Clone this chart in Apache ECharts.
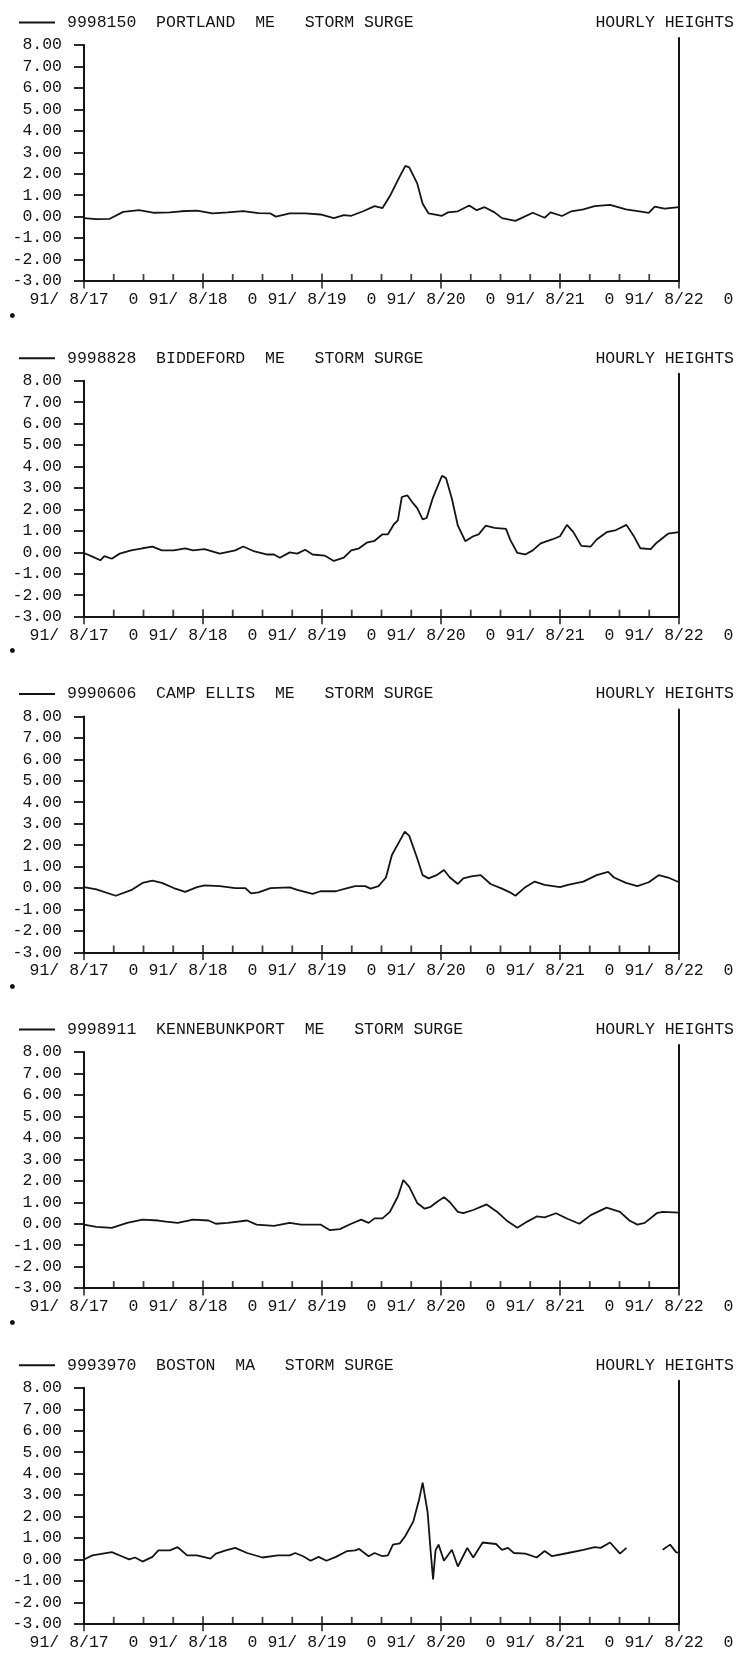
<!DOCTYPE html>
<html>
<head>
<meta charset="utf-8">
<script src="https://cdn.jsdelivr.net/npm/echarts@6/dist/echarts.min.js"></script>
<style>
html,body{margin:0;padding:0;background:#fff;}
#chart{width:743px;height:1656px;}
</style>
</head>
<body>
<div id="chart"></div>
<script>
// ---- DATA (hour since 91/8/17 00:00, storm surge height) ----
const stationNames = [
  "9998150  PORTLAND  ME   STORM SURGE",
  "9998828  BIDDEFORD  ME   STORM SURGE",
  "9990606  CAMP ELLIS  ME   STORM SURGE",
  "9998911  KENNEBUNKPORT  ME   STORM SURGE",
  "9993970  BOSTON  MA   STORM SURGE"
];
const rightTitle = "HOURLY HEIGHTS";
const dayLabels = ["91/ 8/17  0","91/ 8/18  0","91/ 8/19  0","91/ 8/20  0","91/ 8/21  0","91/ 8/22  0"];
const dayTickHours = [0, 24, 48, 72, 96, 120];
const sixHourTickHours = [6, 12, 18, 30, 36, 42, 54, 60, 66, 78, 84, 90, 102, 108, 114];
const yTicks = [-3,-2,-1,0,1,2,3,4,5,6,7,8];

const portland = [[0,-0.07],[2.5,-0.12],[5.2,-0.10],[7.9,0.22],[11.1,0.30],[14.2,0.18],[17.3,0.20],[19.6,0.25],[22.8,0.28],[25.9,0.15],[29.0,0.20],[32.1,0.26],[35.2,0.16],[37.6,0.15],[38.7,0.00],[41.5,0.15],[44.6,0.15],[47.7,0.10],[50.4,-0.07],[52.4,0.07],[53.9,0.04],[56.3,0.25],[58.6,0.49],[60.2,0.40],[61.7,0.96],[63.3,1.70],[64.8,2.37],[65.6,2.30],[67.2,1.55],[68.3,0.60],[69.5,0.15],[72.2,0.04],[73.4,0.20],[75.4,0.25],[77.7,0.52],[79.2,0.30],[80.8,0.44],[82.8,0.20],[84.3,-0.07],[87.0,-0.20],[88.2,-0.07],[90.5,0.18],[92.9,-0.05],[94.1,0.20],[96.4,0.03],[98.3,0.25],[100.7,0.34],[103.0,0.49],[106.1,0.55],[109.3,0.34],[112.0,0.25],[113.9,0.18],[115.1,0.47],[117.1,0.37],[120,0.44]];

const biddeford = [[0,-0.03],[1.7,-0.20],[3.3,-0.37],[4.1,-0.18],[5.6,-0.30],[7.2,-0.06],[9.5,0.09],[11.8,0.19],[13.8,0.27],[15.7,0.09],[18.1,0.09],[20.4,0.19],[22.0,0.09],[24.3,0.15],[27.4,-0.06],[30.5,0.09],[32.1,0.27],[34.4,0.04],[36.8,-0.10],[38.3,-0.10],[39.5,-0.25],[41.5,0.00],[43.0,-0.06],[44.6,0.12],[46.1,-0.10],[48.5,-0.15],[50.4,-0.40],[52.4,-0.25],[53.9,0.09],[55.5,0.19],[57.0,0.45],[58.6,0.54],[60.2,0.84],[61.3,0.84],[62.5,1.31],[63.3,1.49],[64.1,2.58],[65.2,2.66],[66.4,2.28],[67.2,2.06],[68.3,1.54],[69.1,1.60],[70.3,2.50],[72.2,3.57],[73.0,3.46],[74.2,2.50],[75.4,1.24],[76.9,0.52],[78.5,0.75],[79.6,0.84],[81.0,1.24],[82.8,1.14],[85.1,1.09],[86.0,0.57],[87.4,-0.03],[89.0,-0.10],[90.5,0.09],[92.1,0.42],[94.4,0.60],[96.0,0.75],[97.4,1.28],[98.7,0.94],[100.3,0.30],[102.2,0.27],[103.4,0.60],[105.4,0.94],[107.3,1.04],[109.4,1.28],[110.8,0.79],[112.2,0.19],[114.3,0.15],[115.5,0.45],[117.8,0.87],[120,0.94]];

const campEllis = [[0,0.04],[2.5,-0.06],[6.4,-0.36],[9.5,-0.10],[11.8,0.24],[13.8,0.34],[15.7,0.24],[18.1,0.00],[20.4,-0.18],[22.8,0.04],[24.3,0.12],[27.4,0.09],[30.5,0.00],[32.5,0.00],[33.7,-0.25],[35.2,-0.20],[37.6,0.00],[41.5,0.03],[43.0,-0.09],[46.1,-0.27],[47.7,-0.15],[50.8,-0.15],[53.1,0.00],[54.7,0.09],[56.7,0.09],[57.8,-0.03],[59.4,0.09],[60.9,0.49],[62.1,1.54],[63.7,2.21],[64.7,2.63],[65.6,2.43],[67.2,1.39],[68.3,0.60],[69.5,0.45],[71.1,0.60],[72.6,0.84],[73.8,0.49],[75.4,0.19],[76.5,0.45],[78.1,0.54],[80.0,0.60],[82.0,0.19],[84.3,-0.03],[85.9,-0.20],[87.0,-0.36],[89.0,0.04],[90.9,0.30],[92.9,0.15],[96.0,0.04],[97.6,0.15],[100.7,0.30],[103.4,0.60],[105.7,0.75],[106.9,0.49],[109.3,0.24],[111.6,0.09],[113.9,0.27],[115.9,0.60],[117.8,0.49],[120,0.27]];

const kennebunkport = [[0,-0.04],[2.5,-0.15],[5.6,-0.19],[8.7,0.04],[11.8,0.19],[15.0,0.15],[16.5,0.10],[18.9,0.04],[22.0,0.19],[25.1,0.15],[26.6,0.00],[29.0,0.04],[32.9,0.15],[34.8,-0.04],[38.3,-0.10],[41.5,0.04],[43.8,-0.04],[47.7,-0.04],[49.6,-0.30],[51.6,-0.25],[53.9,0.00],[55.9,0.19],[57.4,0.04],[58.6,0.25],[60.2,0.25],[61.7,0.55],[63.3,1.27],[64.4,2.04],[65.6,1.72],[67.2,0.97],[68.7,0.70],[69.9,0.79],[71.1,1.00],[72.6,1.24],[73.8,1.00],[75.4,0.55],[76.5,0.49],[78.5,0.64],[81.2,0.90],[83.5,0.52],[85.5,0.10],[87.4,-0.19],[89.4,0.10],[91.3,0.34],[92.9,0.30],[95.2,0.49],[97.6,0.22],[99.9,0.00],[102.2,0.40],[105.4,0.75],[108.1,0.55],[110.0,0.15],[111.6,-0.04],[113.1,0.04],[115.5,0.49],[116.7,0.55],[120,0.52]];

const boston = [[0,0.00],[1.7,0.19],[5.6,0.34],[7.6,0.15],[9.1,0.00],[10.3,0.09],[11.8,-0.10],[13.8,0.12],[15.0,0.42],[17.3,0.42],[18.9,0.57],[20.8,0.19],[22.8,0.19],[25.5,0.04],[26.6,0.27],[28.6,0.42],[30.5,0.54],[32.9,0.30],[36.0,0.09],[39.1,0.19],[41.5,0.19],[42.6,0.30],[44.2,0.15],[45.7,-0.06],[47.3,0.12],[48.9,-0.06],[50.8,0.12],[53.1,0.39],[54.7,0.42],[55.5,0.49],[57.4,0.15],[58.6,0.30],[60.2,0.15],[61.3,0.19],[62.3,0.69],[63.7,0.75],[64.8,1.09],[66.4,1.76],[67.6,2.81],[68.3,3.58],[69.3,2.20],[69.9,0.42],[70.4,-0.93],[70.9,0.42],[71.5,0.69],[72.6,-0.06],[74.2,0.45],[75.4,-0.33],[77.3,0.54],[78.5,0.09],[80.4,0.79],[83.1,0.72],[84.3,0.45],[85.5,0.54],[86.7,0.30],[89.0,0.27],[91.3,0.09],[92.9,0.39],[94.4,0.15],[97.6,0.30],[100.7,0.45],[103.0,0.57],[104.2,0.54],[106.1,0.79],[108.1,0.27],[109.4,0.54],[113.0,null],[116.7,0.45],[118.2,0.69],[119.4,0.34],[120,0.30]];

const stationData = [portland, biddeford, campEllis, kennebunkport, boston];

// ---- LAYOUT / STYLE ----
const INK = '#141414';
const FONT = '"Liberation Mono", "DejaVu Sans Mono", monospace';
const FS = 16.5;
const LEFT = 84, WIDTH = 595, HEIGHT = 236;
const TOP0 = 45, STEP = 335.7;

const grids = [], xAxes = [], yAxes = [], series = [], legends = [], titles = [];
const n = stationData.length;
const yMin = yTicks[0];

// plot grids (index i)
for (let i = 0; i < n; i++) {
  const top = TOP0 + i * STEP;
  grids.push({left: LEFT, top: top, width: WIDTH, height: HEIGHT});
  xAxes.push({
    type: 'value', gridIndex: i, min: 0, max: 120, interval: 24,
    axisLine: {onZero: false, lineStyle: {color: INK, width: 2}},
    axisTick: {show: false},
    splitLine: {show: false},
    axisLabel: {margin: 10, color: INK, fontFamily: FONT, fontSize: FS,
      formatter: v => dayLabels[Math.round(v / 24)]}
  });
  yAxes.push({
    type: 'value', gridIndex: i, min: yMin, max: yTicks[yTicks.length - 1], interval: 1,
    axisLine: {show: true, lineStyle: {color: INK, width: 2}},
    axisTick: {show: true, length: 10, lineStyle: {color: INK, width: 1.8}},
    splitLine: {show: false},
    axisLabel: {margin: 22, color: INK, fontFamily: FONT, fontSize: FS,
      formatter: v => v.toFixed(2)}
  });
  series.push({
    type: 'line', name: stationNames[i], xAxisIndex: i, yAxisIndex: i,
    data: stationData[i], showSymbol: false, symbol: 'none', connectNulls: false,
    lineStyle: {color: INK, width: 1.8}, itemStyle: {color: INK}, silent: true
  });
  // 6-hour tick marks standing on the time axis (drawn through the axis scales)
  series.push({
    type: 'scatter', xAxisIndex: i, yAxisIndex: i, silent: true, clip: false, z: 4,
    data: sixHourTickHours.map(h => [h, yMin]),
    symbol: 'rect', symbolSize: [1.8, 7], symbolOffset: [0, -3.5],
    itemStyle: {color: INK}
  });
  // day tick marks crossing the time axis
  series.push({
    type: 'scatter', xAxisIndex: i, yAxisIndex: i, silent: true, clip: false, z: 4,
    data: dayTickHours.map(h => [h, yMin]),
    symbol: 'rect', symbolSize: [1.8, 15], symbolOffset: [0, 0],
    itemStyle: {color: INK}
  });
  legends.push({
    data: [stationNames[i]], left: 14, top: top - 36, itemWidth: 36, itemHeight: 2,
    icon: 'rect', itemStyle: {color: INK},
    textStyle: {color: INK, fontFamily: FONT, fontSize: FS, padding: [0, 0, 0, 7]},
    selectedMode: false
  });
  titles.push({
    text: rightTitle, right: 4, top: top - 36,
    textStyle: {color: INK, fontFamily: FONT, fontSize: FS, fontWeight: 'normal'}
  });
  titles.push({
    text: '\u2022', left: 2, top: top + 258,
    textStyle: {color: INK, fontFamily: FONT, fontSize: 18, fontWeight: 'normal'}
  });
}
// frame grids (index n+i): right border line, a bit taller than the plot.
// x runs -120..0 so the right-hand y axis sits on its zero (the right edge).
for (let i = 0; i < n; i++) {
  const top = TOP0 + i * STEP;
  grids.push({left: LEFT, top: top - 7, width: WIDTH, height: HEIGHT + 7});
  xAxes.push({
    type: 'value', gridIndex: n + i, min: -120, max: 0, interval: 24,
    axisLine: {show: false}, axisTick: {show: false},
    axisLabel: {show: false}, splitLine: {show: false}
  });
  yAxes.push({
    type: 'value', gridIndex: n + i, min: 0, max: 1, position: 'right',
    axisLine: {show: true, lineStyle: {color: INK, width: 2}},
    axisTick: {show: false}, axisLabel: {show: false}, splitLine: {show: false}
  });
}

const chart = echarts.init(document.getElementById('chart'));
chart.setOption({
  backgroundColor: '#ffffff',
  animation: false,
  title: titles,
  legend: legends,
  grid: grids,
  xAxis: xAxes,
  yAxis: yAxes,
  series: series
});
</script>
</body>
</html>
